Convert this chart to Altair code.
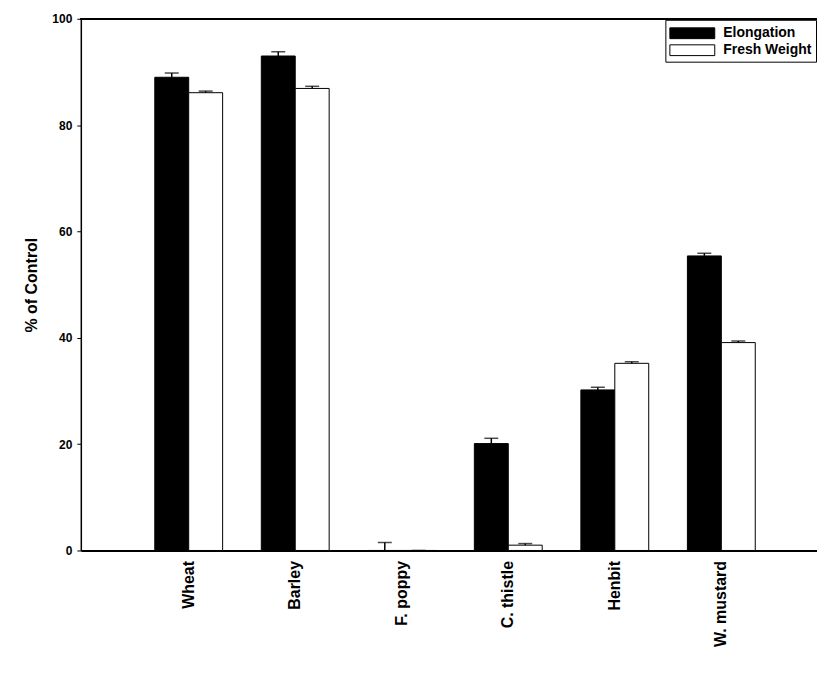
import altair as alt
import pandas as pd

categories = ["Wheat", "Barley", "F. poppy", "C. thistle", "Henbit", "W. mustard"]
series_names = ["Elongation", "Fresh Weight"]
elongation = [89.0, 93.0, 0.0, 20.1, 30.2, 55.4]
elongation_err = [0.8, 0.8, 1.5, 1.0, 0.5, 0.5]
fresh_weight = [86.1, 86.9, 0.0, 1.0, 35.2, 39.1]
fresh_weight_err = [0.3, 0.4, 0.0, 0.3, 0.3, 0.3]
y_ticks = [0, 20, 40, 60, 80, 100]

rows = []
for i, c in enumerate(categories):
    rows.append({"cat": c, "series": series_names[0], "value": elongation[i],
                 "top": elongation[i] + elongation_err[i]})
    rows.append({"cat": c, "series": series_names[1], "value": fresh_weight[i],
                 "top": fresh_weight[i] + fresh_weight_err[i]})
df = pd.DataFrame(rows)

W, H = 738, 533

x_enc = alt.X("cat:N", sort=categories, title=None,
              scale=alt.Scale(paddingInner=0.363, paddingOuter=0.637, align=0.545),
              axis=alt.Axis(labelAngle=270, labelFont="Liberation Sans", labelFontWeight="bold",
                            labelFontSize=16, labelColor="black", ticks=False, labelPadding=10,
                            domainColor="black", domainWidth=2))
xo_enc = alt.XOffset("series:N", sort=series_names, scale=alt.Scale(paddingInner=0, paddingOuter=0))

base = alt.Chart(df)

bars = base.mark_bar(stroke="black", strokeWidth=1).encode(
    x=x_enc,
    xOffset=xo_enc,
    y=alt.Y("value:Q", title="% of Control",
            scale=alt.Scale(domain=[0, 100], nice=False),
            axis=alt.Axis(values=y_ticks, grid=False, labelFont="Liberation Sans",
                          labelFontWeight="bold", labelFontSize=12, labelColor="black",
                          tickColor="black", tickSize=4, labelPadding=5,
                          titleFont="Liberation Sans", titleFontWeight="bold",
                          titleFontSize=16, titleColor="black", titlePadding=12,
                          domainColor="black", domainWidth=1.5)),
    fill=alt.Fill("series:N", sort=series_names,
                  scale=alt.Scale(domain=series_names, range=["black", "white"]),
                  legend=alt.Legend(title=None, orient="top-right", offset=1,
                                    fillColor="white", strokeColor="black", padding=4,
                                    labelFont="Liberation Sans", labelFontWeight="bold",
                                    labelFontSize=14, labelColor="black",
                                    symbolType="M-1,-0.6H4V0.6H-1Z", symbolSize=324,
                                    symbolStrokeColor="black", symbolStrokeWidth=1,
                                    rowPadding=0, labelOffset=35)),
)

err_rule = base.mark_rule(color="black", strokeWidth=1.5).encode(
    x=alt.X("cat:N", sort=categories),
    xOffset=xo_enc,
    y="value:Q",
    y2="top:Q",
)

err_cap = base.mark_tick(color="black", orient="horizontal", size=14, thickness=1.5).encode(
    x=alt.X("cat:N", sort=categories),
    xOffset=xo_enc,
    y="top:Q",
)

top_border = alt.Chart(df).mark_rule(color="black", strokeWidth=1.5).encode(
    x=alt.value(0), x2=alt.value(W), y=alt.value(0)
)

chart = alt.layer(bars, err_rule, err_cap, top_border).properties(
    width=W, height=H,
    autosize=alt.AutoSizeParams(type="none"),
    padding={"left": 73, "top": 10, "right": 0, "bottom": 118},
).configure_view(stroke=None).configure(background="white")

chart.save("out.html", embed_options={"renderer": "svg", "actions": False})
